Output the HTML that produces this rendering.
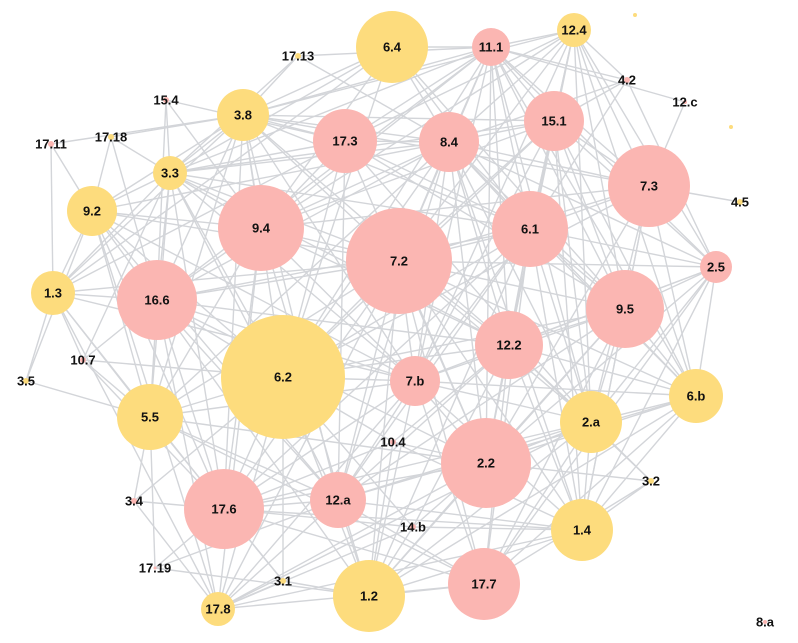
<!DOCTYPE html>
<html><head><meta charset="utf-8"><style>
html,body{margin:0;padding:0;background:#fff;}
svg{display:block;}
text{font-family:"Liberation Sans",sans-serif;font-weight:bold;font-size:13px;fill:#111;text-anchor:middle;dominant-baseline:central;}
</style></head><body>
<svg id="chart" width="798" height="643">
<g id="edges"></g>
<g id="nodes"></g>
</svg>
<script>
const labels=["6.4","11.1","12.4","17.13","15.4","3.8","17.3","8.4","15.1","4.2","12.c","17.11","17.18","3.3","9.2","9.4","7.2","6.1","7.3","4.5","2.5","1.3","16.6","9.5","12.2","10.7","3.5","6.2","7.b","6.b","5.5","2.a","10.4","2.2","3.2","3.4","17.6","12.a","14.b","1.4","17.19","3.1","1.2","17.7","17.8","8.a","",""];
const sizes=[36,19,17,3,3,26,32,30,30,3,2,3,3,17,25,43,53,38,41,3,16,22,40,39,34,3,3,62,25,27,33,31,3,45,3,3,40,28,3,31,0,3,36,36,17,2,2,2];
const groups=["y","p","y","y","p","y","p","p","p","p","p","p","y","y","y","p","p","p","p","y","p","y","p","p","p","p","y","y","p","y","y","y","p","p","y","p","p","p","p","y","p","y","y","p","y","p","y","y"];
const layoutX=[392,491,574,298,166,243,345,449,554,627,685,51,111,170,92,261,399,530,649,740,716,53,157,625,509,83,26,283,415,696,150,591,393,486,651,134,224,338,413,582,155,283,369,484,218,765,635,731];
const layoutY=[47,47,30,56,100,115,141,142,121,80,102,144,137,173,211,228,261,229,186,202,267,293,300,309,345,360,381,377,381,396,417,422,442,463,481,501,509,500,527,530,568,581,596,584,609,622,15,127];
const colors={y:"#fddc7d",p:"#fbb6b2"};
const NS="http://www.w3.org/2000/svg";
const eg=document.getElementById('edges'),ng=document.getElementById('nodes');
const n=labels.length;
function addEdge(i,j){
  const l=document.createElementNS(NS,'line');
  l.setAttribute('x1',layoutX[i]);l.setAttribute('y1',layoutY[i]);
  l.setAttribute('x2',layoutX[j]);l.setAttribute('y2',layoutY[j]);
  l.setAttribute('stroke','#d3d5d9');l.setAttribute('stroke-width','1.4');
  
  
  eg.appendChild(l);
}
for(let i=0;i<n;i++){
  if(!labels[i])continue;
  for(let j=i+1;j<n;j++){
    if(!labels[j])continue;
    const d=Math.hypot(layoutX[i]-layoutX[j],layoutY[i]-layoutY[j]);
    const big=sizes[i]>=15&&sizes[j]>=15;
    if(big&&d<420&&((i*7+j*3)%6!==0)) addEdge(i,j);
    else if(!big&&(sizes[i]>=15||sizes[j]>=15)&&d<220&&((i+j)%3!==0)) addEdge(i,j);
  }
}
for(let i=0;i<n;i++){
  const c=document.createElementNS(NS,'circle');
  c.setAttribute('cx',layoutX[i]);c.setAttribute('cy',layoutY[i]);
  c.setAttribute('r',Math.max(sizes[i],1.5));
  c.setAttribute('fill',colors[groups[i]]);
  
  
  ng.appendChild(c);
  if(labels[i]){
    const t=document.createElementNS(NS,'text');
    t.setAttribute('x',layoutX[i]);t.setAttribute('y',layoutY[i]);
    t.textContent=labels[i];
    
    
    ng.appendChild(t);
  }
}
</script>
</body></html>
